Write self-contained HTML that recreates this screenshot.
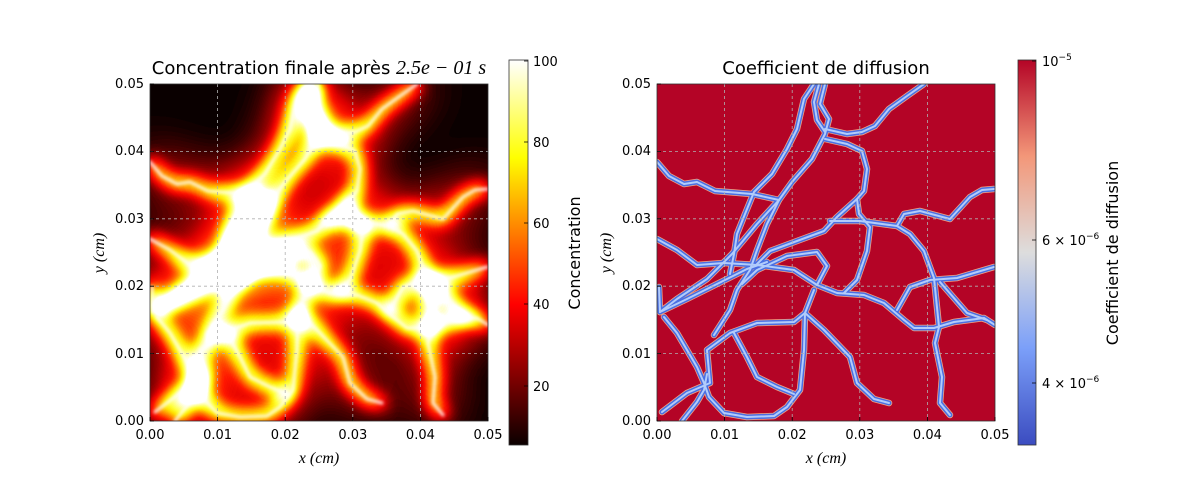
<!DOCTYPE html>
<html><head><meta charset="utf-8"><style>
html,body{margin:0;padding:0;background:#fff;}
svg{display:block;font-family:"DejaVu Sans","Liberation Sans",sans-serif;}
.t{font-size:13px;fill:#000;}
.m{font-family:"Liberation Serif","DejaVu Serif",serif;font-style:italic;}
</style></head><body>
<svg width="1200" height="500" viewBox="0 0 1200 500" xmlns="http://www.w3.org/2000/svg">
<defs>
<g id="net" fill="none" stroke-linejoin="round" stroke-linecap="round">
<path d="M0,78 L12,92 27,100 40,98 58,107 95,110 122,116"/>
<path d="M168,0 L163,20 172,35 168,50 155,75 135,98 122,116 100,140 75,170 50,195 20,215 3,228"/>
<path d="M162,0 L157,18 160,36 168,48"/>
<path d="M157,0 L147,15 140,45 130,65 115,90 97,108 88,130 80,150 77,170 73,190"/>
<path d="M168,45 L190,50 205,48 218,42 232,25 250,12 267,0"/>
<path d="M168,55 L190,60 205,67 210,85 207,107 200,115 180,133 167,147 140,157 113,167 100,180"/>
<path d="M200,115 L202,130 213,143 210,167 200,196 187,209"/>
<path d="M173,137 L203,137 240,142 253,150 267,167 277,194 282,243 278,259 285,293 283,319 293,331"/>
<path d="M240,142 L247,130 263,127 293,135 313,113 325,106 337,105"/>
<path d="M0,155 L20,166 40,181 67,179 100,181 137,186 160,201 180,209 207,211 227,219 247,236 257,244 277,244 297,238 327,234 338,241"/>
<path d="M240,226 L253,203 273,196 300,194 337,183"/>
<path d="M283,198 L310,229 330,236"/>
<path d="M157,206 L148,229 147,266 143,306 130,323 117,332 90,333 67,329 52,313 47,299 40,283 20,249 7,233"/>
<path d="M148,229 L167,246 193,273 200,299 217,315 232,319"/>
<path d="M5,328 L30,309 53,299 50,266 73,249 100,239 137,238 148,229"/>
<path d="M25,337 L40,318 47,306 50,290"/>
<path d="M77,249 L90,273 100,293 120,303 137,310"/>
<path d="M57,251 L73,226 80,206 93,186 100,166 110,140 122,116"/>
<path d="M2,203 L3,228"/>
<path d="M85,200 L100,186 130,172 160,168 170,182 160,201"/>
<path d="M3,228 L30,215 60,200 90,185 110,178"/>
</g>
<filter id="hot" x="-20%" y="-20%" width="140%" height="140%" color-interpolation-filters="sRGB">
<feGaussianBlur in="SourceAlpha" stdDeviation="8" result="n"/>
<feGaussianBlur in="SourceAlpha" stdDeviation="24" result="w"/>
<feComposite in="n" in2="w" operator="arithmetic" k1="0" k2="2.1" k3="2.9" k4="0" result="b"/>
<feColorMatrix in="b" type="matrix" values="0 0 0 1 0  0 0 0 1 0  0 0 0 1 0  0 0 0 0 1" result="c"/>
<feComponentTransfer in="c">
<feFuncR type="table" tableValues="0.04 0.32 0.6 0.88 1 1 1 1 1 1 1"/>
<feFuncG type="table" tableValues="0 0 0 0 0.09 0.36 0.62 0.89 1 1 1"/>
<feFuncB type="table" tableValues="0 0 0 0 0 0 0 0 0.21 0.6 1"/>
<feFuncA type="table" tableValues="1 1"/>
</feComponentTransfer>
</filter>
<filter id="soft"><feGaussianBlur stdDeviation="1.5"/></filter>
<clipPath id="cl"><rect x="0" y="0" width="338" height="337"/></clipPath>
<linearGradient id="hotg" x1="0" y1="1" x2="0" y2="0">
<stop offset="0" stop-color="#0b0000"/>
<stop offset="0.365" stop-color="#ff0000"/>
<stop offset="0.746" stop-color="#ffff00"/>
<stop offset="1" stop-color="#ffffff"/>
</linearGradient>
<linearGradient id="cwg" x1="0" y1="1" x2="0" y2="0">
<stop offset="0" stop-color="#3b4cc0"/>
<stop offset="0.25" stop-color="#7b9ff9"/>
<stop offset="0.5" stop-color="#dddddd"/>
<stop offset="0.75" stop-color="#f39779"/>
<stop offset="1" stop-color="#b40426"/>
</linearGradient>
</defs>

<!-- LEFT -->
<g transform="translate(150,84)">
<g clip-path="url(#cl)">
<rect width="338" height="337" fill="#0b0000"/>
<g filter="url(#hot)"><use href="#net" stroke="#fff" stroke-width="4"/></g>
<g filter="url(#soft)" opacity="0.9"><use href="#net" stroke="#fff" stroke-width="3"/></g>
</g>
<g stroke="#b0b0b0" stroke-width="0.8" stroke-dasharray="3,3">
<path d="M67.6,0V337M135.2,0V337M202.8,0V337M270.4,0V337M0,67.4H338M0,134.8H338M0,202.2H338M0,269.6H338"/>
</g>
<rect width="338" height="337" fill="none" stroke="#333" stroke-width="0.8"/>
<g stroke="#000" stroke-width="0.8">
<path d="M0,0h4M0,67.4h4M0,134.8h4M0,202.2h4M0,269.6h4M0,337h4M0,337v-4M67.6,337v-4M135.2,337v-4M202.8,337v-4M270.4,337v-4M338,337v-4"/>
</g>
<g class="t" text-anchor="middle">
<text x="0" y="355">0.00</text><text x="67.6" y="355">0.01</text><text x="135.2" y="355">0.02</text><text x="202.8" y="355">0.03</text><text x="270.4" y="355">0.04</text><text x="338" y="355">0.05</text>
</g>
<g class="t" text-anchor="end">
<text x="-6" y="341">0.00</text><text x="-6" y="274">0.01</text><text x="-6" y="206">0.02</text><text x="-6" y="139">0.03</text><text x="-6" y="71">0.04</text><text x="-6" y="4">0.05</text>
</g>
<text x="169" y="-10" text-anchor="middle" font-size="18">Concentration finale après <tspan class="m" font-size="20">2.5e − 01 s</tspan></text>
<text x="169" y="379" text-anchor="middle" font-size="16" class="m">x (cm)</text>
<text transform="translate(-46,169) rotate(-90)" text-anchor="middle" font-size="16" class="m">y (cm)</text>
</g>
<rect x="509" y="60" width="19" height="385" fill="url(#hotg)" stroke="#333" stroke-width="0.8"/>
<g stroke="#000" stroke-width="0.8"><path d="M528,61h-4M528,142h-4M528,223h-4M528,304h-4M528,386h-4"/></g>
<g class="t"><text x="533" y="66">100</text><text x="533" y="147">80</text><text x="533" y="228">60</text><text x="533" y="309">40</text><text x="533" y="391">20</text></g>
<text transform="translate(580,253) rotate(-90)" text-anchor="middle" font-size="16">Concentration</text>

<!-- RIGHT -->
<g transform="translate(657,84)">
<g clip-path="url(#cl)">
<rect width="338" height="337" fill="#b40426"/>
<use href="#net" stroke="#f4a582" stroke-width="6.5"/>
<use href="#net" stroke="#4a6fe3" stroke-width="5"/>
<use href="#net" stroke="#b2ccfb" stroke-width="2"/>
</g>
<g stroke="#b0b0b0" stroke-width="0.8" stroke-dasharray="3,3">
<path d="M67.6,0V337M135.2,0V337M202.8,0V337M270.4,0V337M0,67.4H338M0,134.8H338M0,202.2H338M0,269.6H338"/>
</g>
<rect width="338" height="337" fill="none" stroke="#333" stroke-width="0.8"/>
<g stroke="#000" stroke-width="0.8">
<path d="M0,0h4M0,67.4h4M0,134.8h4M0,202.2h4M0,269.6h4M0,337h4M0,337v-4M67.6,337v-4M135.2,337v-4M202.8,337v-4M270.4,337v-4M338,337v-4"/>
</g>
<g class="t" text-anchor="middle">
<text x="0" y="355">0.00</text><text x="67.6" y="355">0.01</text><text x="135.2" y="355">0.02</text><text x="202.8" y="355">0.03</text><text x="270.4" y="355">0.04</text><text x="338" y="355">0.05</text>
</g>
<g class="t" text-anchor="end">
<text x="-6" y="341">0.00</text><text x="-6" y="274">0.01</text><text x="-6" y="206">0.02</text><text x="-6" y="139">0.03</text><text x="-6" y="71">0.04</text><text x="-6" y="4">0.05</text>
</g>
<text x="169" y="-10" text-anchor="middle" font-size="18">Coefficient de diffusion</text>
<text x="169" y="379" text-anchor="middle" font-size="16" class="m">x (cm)</text>
<text transform="translate(-46,169) rotate(-90)" text-anchor="middle" font-size="16" class="m">y (cm)</text>
</g>
<rect x="1018" y="60" width="18" height="385" fill="url(#cwg)" stroke="#333" stroke-width="0.8"/>
<g stroke="#000" stroke-width="0.8"><path d="M1036,61h-4M1036,240h-4M1036,383h-4"/></g>
<g class="t">
<text x="1042" y="66">10<tspan font-size="9" dy="-6">−5</tspan></text>
<text x="1042" y="245">6 × 10<tspan font-size="9" dy="-6">−6</tspan></text>
<text x="1042" y="388">4 × 10<tspan font-size="9" dy="-6">−6</tspan></text>
</g>
<text transform="translate(1118,253) rotate(-90)" text-anchor="middle" font-size="16">Coefficient de diffusion</text>
</svg>
</body></html>
